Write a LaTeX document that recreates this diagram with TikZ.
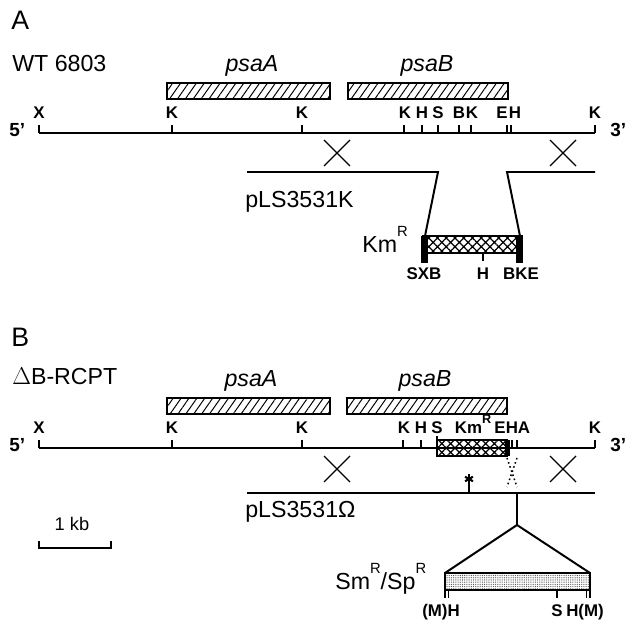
\documentclass[tikz,border=0pt]{standalone}
\usepackage{fontspec}
\setmainfont{Liberation Sans}
\usetikzlibrary{patterns.meta}
\newcommand{\supR}{\raisebox{0.7em}{\fontsize{10.5}{11}\selectfont R}}
\tikzset{
  panel/.style={font=\fontsize{19}{21}\selectfont, inner sep=0pt, anchor=base west},
  big/.style={font=\fontsize{16.5}{18}\selectfont, inner sep=0pt, anchor=base west},
  gene/.style={font=\fontsize{16.5}{18}\selectfont\itshape, inner sep=0pt, anchor=base},
  site/.style={font=\fontsize{12}{13}\selectfont\bfseries, inner sep=0pt, anchor=base},
  strand/.style={font=\fontsize{13.5}{15}\selectfont\bfseries, inner sep=0pt, anchor=base west},
  dna/.style={line width=1.4pt},
  cut/.style={line width=0.9pt},
  xover/.style={line width=0.9pt},
  orf/.style={draw, line width=1.1pt, pattern={Lines[angle=55, distance=4.6pt, line width=0.7pt]}},
  kmbox/.style={draw, line width=1.1pt, pattern={Hatch[angle=45, distance=4.4pt, line width=0.8pt]}},
  smbox/.style={draw, line width=1.1pt, pattern={Dots[distance=1.3pt, radius=0.33pt]}, pattern color=black!80},
}

\begin{document}
\begin{tikzpicture}[x=0.025cm, y=-0.025cm]
  \useasboundingbox (0,0) rectangle (627,623);

  % --- A: wild type and pLS3531K
  \node[panel] (pa) at (11,30) {A};
  \node[big]   (wt) at (12,72) {WT 6803};
  \node[gene]  (aA) at (252,72) {psaA};
  \node[gene]  (aB) at (427,72) {psaB};
  \draw[orf] (167,83) rectangle (330,99);
  \draw[orf] (348,83) rectangle (508,99);
  \draw[dna] (39,133) -- (595,133);
  \foreach \x/\l/\lx in {39/X/39, 172/K/172, 302/K/302, 404/K/405, 422/H/422, 438/S/438,
                         459/B/459, 471/K/472, 507/E/502, 511/H/515, 595/K/595} {
    \draw[cut] (\x,133) -- (\x,125);
    \node[site] (a\x) at (\lx,119) {\l};
  }
  \node[strand] (a5) at (9,137) {5’};
  \node[strand] (a3) at (610,137) {3’};
  \draw[xover] (324,140) -- (350,166) (324,166) -- (350,140);
  \draw[xover] (550,140) -- (576,166) (550,166) -- (576,140);
  \node[big] (pk) at (245,208) {pLS3531K};
  \draw[dna] (247,172) -- (438,172) -- (425,236);
  \draw[dna] (595,172) -- (507,172) -- (520,236);
  \draw[kmbox] (423,236) rectangle (522,253);
  \fill (421,236) rectangle (428,263);
  \fill (516,236) rectangle (523,263);
  \draw[cut] (483,253) -- (483,261);
  \node[big]  (km) at (362,253) {Km\supR};
  \node[site] (k1) at (424,280) {SXB};
  \node[site] (k2) at (483,280) {H};
  \node[site] (k3) at (521,280) {BKE};

  % --- B: deletion strain and pLS3531 omega
  \node[panel] (pb) at (11,347) {B};
  \node[big]   (dl) at (12,385) {$\Delta$B-RCPT};
  \node[gene]  (bA) at (251,387) {psaA};
  \node[gene]  (bB) at (425,387) {psaB};
  \draw[orf] (167,398) rectangle (330,414);
  \draw[orf] (347,398) rectangle (507,414);
  \draw[dna] (39,448) -- (595,448);
  \foreach \x in {39, 172, 302, 403, 421, 512, 517, 595}
    \draw[cut] (\x,448) -- (\x,440);
  \draw[cut] (437,436) -- (437,441);
  \draw[kmbox] (437,440) rectangle (507,456);
  \fill (505,440) rectangle (510,456);
  \foreach \lx/\l in {39/X, 172/K, 302/K, 404/K, 421/H, 437/S, 500/E, 512/H, 524/A, 595/K}
    \node[site] (b\lx) at (\lx,434) {\l};
  \node[site] (bk) at (473,434) {Km\raisebox{0.6em}{\fontsize{9}{9}\selectfont R}};
  \node[strand] (b5) at (9,452) {5’};
  \node[strand] (b3) at (610,452) {3’};
  \draw[xover] (324,456) -- (350,482) (324,482) -- (350,456);
  \draw[xover] (550,456) -- (576,482) (550,482) -- (576,456);
  \draw[dotted, line width=1.1pt] (507,458) -- (517,487) (517,458) -- (507,487);
  \draw[dna] (247,493) -- (595,493);
  \coordinate (ast) at (469,479);
  \draw[cut] (469,493) -- (ast);
  \foreach \a in {90,30,150}
    \draw[line width=1.5pt] (ast) ++(\a:4.5) -- ++(\a+180:9);
  \node[big] (po) at (245,518) {pLS3531Ω};
  \coordinate (ins) at (517,493);
  \coordinate (fork) at (517,525);
  \draw[dna] (ins) -- (fork);
  \draw[dna] (445,573) -- (fork) -- (590,573);
  \draw[smbox] (445,573) rectangle (590,590);
  \foreach \x in {445, 448.5, 557, 586.5, 590}
    \draw[cut] (\x,590) -- (\x,598);
  \node[big]  (sm) at (335,590) {Sm\supR/Sp\supR};
  \node[site] (o1) at (441,617) {(M)H};
  \node[site] (o2) at (557,617) {S};
  \node[site] (o3) at (585,617) {H(M)};

  % scale bar
  \node[font=\fontsize{13}{14}\selectfont, inner sep=0pt, anchor=base] (kb) at (72,530) {1 kb};
  \draw[cut] (39,541) -- (39,548) -- (111,548) -- (111,541);
\end{tikzpicture}
\end{document}
